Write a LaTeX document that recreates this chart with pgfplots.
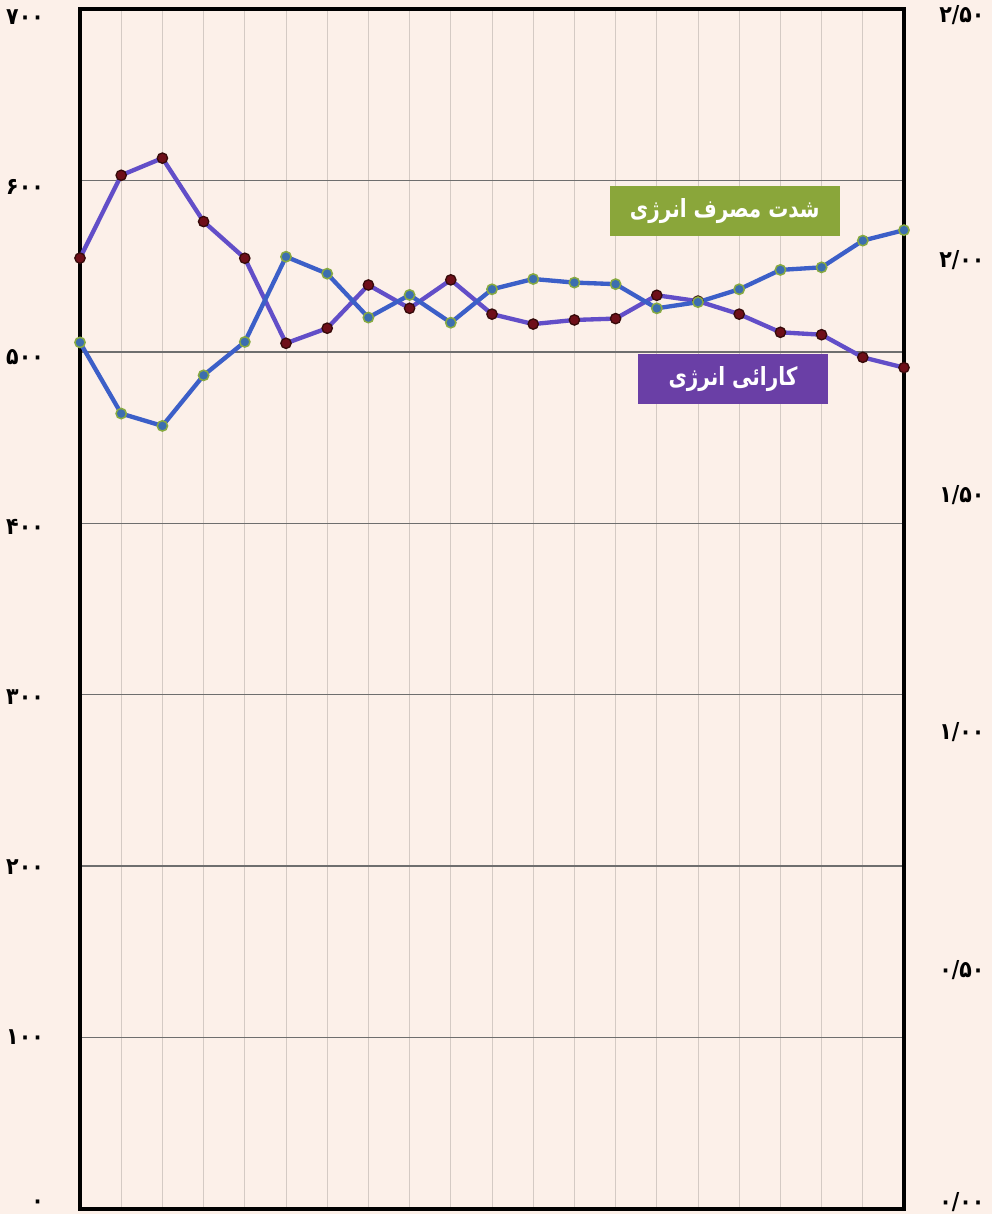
\documentclass[border=0pt]{standalone}
\usepackage{pgfplots}
\pgfplotsset{compat=1.18}
\usepackage{fontspec}
\setmainfont{DejaVu Sans}
\newfontfamily\fa[Script=Arabic]{DejaVu Sans}
\newfontfamily\fan[Script=Arabic, FakeStretch=0.8]{DejaVu Sans}
\newfontfamily\fad[Script=Arabic, FakeStretch=0.88]{DejaVu Sans}
\TeXXeTstate=1
\definecolor{bg}{RGB}{252,240,233}
\definecolor{vgrid}{RGB}{212,202,196}
\definecolor{hgrid}{RGB}{110,110,110}
\definecolor{effline}{RGB}{98,78,200}
\definecolor{intline}{RGB}{60,95,200}
\definecolor{effmark}{RGB}{110,15,25}
\definecolor{effmarkd}{RGB}{55,10,10}
\definecolor{intmark}{RGB}{60,110,175}
\definecolor{intmarkd}{RGB}{135,170,65}
\definecolor{boxgreen}{RGB}{138,166,58}
\definecolor{boxpurple}{RGB}{106,63,166}

\pgfplotstableread{
x eff int
0 554.7 505.5
1 603.0 464.0
2 613.0 456.8
3 576.0 486.3
4 554.6 505.8
5 505.0 555.5
6 513.8 545.6
7 539.0 520.0
8 525.4 533.2
9 542.0 517.0
10 522.0 536.5
11 516.2 542.5
12 518.6 540.4
13 519.4 539.5
14 533.0 525.4
15 529.6 529.0
16 522.0 536.5
17 511.4 547.8
18 510.0 549.3
19 496.8 564.9
20 490.8 571.0
}\datatable

\begin{document}
\begin{tikzpicture}
\path[fill=bg, use as bounding box] (-48pt,-3pt) rectangle (547.2pt,725.4pt);
\begin{axis}[
  at={(0,0)}, anchor=south west,
  width=494.4pt, height=720pt, scale only axis,
  xmin=0, xmax=20, ymin=0, ymax=700,
  xtick={0,1,...,20}, xticklabels={},
  ytick={0,100,...,700}, yticklabels={},
  xmajorgrids, ymajorgrids,
  x grid style={color=vgrid, line width=0.6pt},
  y grid style={color=hgrid, line width=0.9pt},
  major tick length=0pt,
  axis line style={line width=2.4pt, black},
  clip=false,
]
\addplot[color=effline, line width=2.6pt, mark=*, mark size=3.1pt,
  mark options={fill=effmark, draw=effmarkd, line width=0.8pt}]
  table[x=x, y=eff] {\datatable};
\addplot[color=intline, line width=2.6pt, mark=*, mark size=3.1pt,
  mark options={fill=intmark, draw=intmarkd, line width=0.9pt}]
  table[x=x, y=int] {\datatable};
\node[fill=boxgreen, text=white, minimum width=138pt, minimum height=30pt, inner sep=0pt,
  font=\fan\bfseries\fontsize{15}{15}\selectfont]
  at (axis cs:15.65,582) {\beginR شدت مصرف انرژی\endR};
\node[fill=boxpurple, text=white, minimum width=114pt, minimum height=30pt, inner sep=0pt,
  font=\fan\bfseries\fontsize{15}{15}\selectfont]
  at (axis cs:15.85,484) {\beginR کارائی انرژی\endR};
\end{axis}
% left tick labels
\begin{axis}[
  at={(0,0)}, anchor=south west,
  width=494.4pt, height=720pt, scale only axis,
  xmin=0, xmax=20, ymin=0, ymax=700,
  hide x axis,
  axis y line*=left,
  y axis line style={draw=none},
  ytick={2.5,100.3,199.5,298.7,397.8,497,596.2,695.3},
  yticklabels={۰,۱۰۰,۲۰۰,۳۰۰,۴۰۰,۵۰۰,۶۰۰,۷۰۰},
  major tick length=0pt,
  yticklabel style={font=\fad\bfseries\fontsize{14}{14}\selectfont, anchor=east, inner sep=1pt, xshift=-20.5pt},
]
\end{axis}
% right tick labels
\begin{axis}[
  at={(0,0)}, anchor=south west,
  width=494.4pt, height=720pt, scale only axis,
  xmin=0, xmax=20, ymin=0, ymax=2.5,
  hide x axis,
  axis y line*=right,
  y axis line style={draw=none},
  ytick={0.0146,0.498,0.994,1.4875,1.977,2.4875},
  yticklabels={۰/۰۰,۰/۵۰,۱/۰۰,۱/۵۰,۲/۰۰,۲/۵۰},
  major tick length=0pt,
  yticklabel style={font=\fad\bfseries\fontsize{14}{14}\selectfont, anchor=west, inner sep=1pt, xshift=20pt},
]
\end{axis}
\end{tikzpicture}
\end{document}
